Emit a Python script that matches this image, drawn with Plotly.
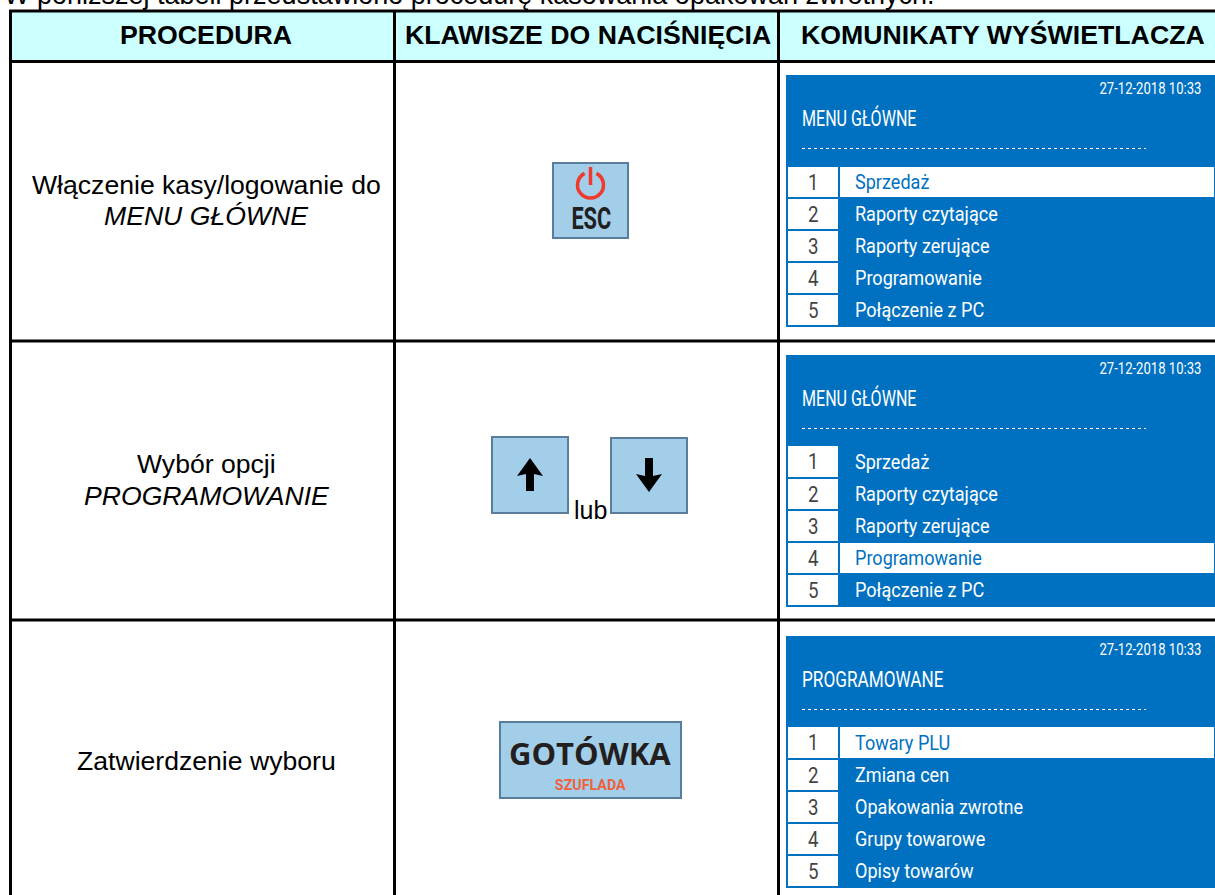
import math
import plotly.graph_objects as go

INTRO = "W poniższej tabeli przedstawiono procedurę kasowania opakowań zwrotnych."
HEADERS = ["PROCEDURA", "KLAWISZE DO NACIŚNIĘCIA", "KOMUNIKATY WYŚWIETLACZA"]
HEADER_X = [206, 587.5, 1003]
STEP_LINES = [["Włączenie kasy/logowanie do", "MENU GŁÓWNE"],
              ["Wybór opcji", "PROGRAMOWANIE"],
              ["Zatwierdzenie wyboru"]]
STEP_Y = [[184.5, 216], [464, 496], [761]]
PANEL_TITLES = ["MENU GŁÓWNE", "MENU GŁÓWNE", "PROGRAMOWANE"]
PANEL_TITLE_SQUEEZE = [0.73, 0.73, 0.78]
PANEL_DATE = "27-12-2018 10:33"
PANEL_TOPS = [75, 355, 636]
PANEL_ITEMS = [["Sprzedaż", "Raporty czytające", "Raporty zerujące", "Programowanie", "Połączenie z PC"],
               ["Sprzedaż", "Raporty czytające", "Raporty zerujące", "Programowanie", "Połączenie z PC"],
               ["Towary PLU", "Zmiana cen", "Opakowania zwrotne", "Grupy towarowe", "Opisy towarów"]]
PANEL_SELECTED = [0, 3, 0]
PANEL_FIRST_ROW = [92, 91, 91]
ROW_OFFSETS = [124, 156, 188, 220]

COLS = [10.5, 394.5, 778.5]
ROW_LINES = [11, 61.5, 341, 620, 895]
BLUE = "#0071C1"
KEY_FILL = "#A3CEE9"
KEY_LINE = "#5B7D9C"
HEAD = "#CCFFFF"
COND = "Roboto"
ARIAL = "Liberation Sans"

shapes, ann = [], []

def rect(x0, y0, x1, y1, fill, line=None, lw=0):
    shapes.append(dict(type="rect", xref="x", yref="y", x0=x0, y0=y0, x1=x1, y1=y1,
                       fillcolor=fill, line=dict(color=line or fill, width=lw)))

def seg(x0, y0, x1, y1, color="#000", lw=3, dash="solid"):
    shapes.append(dict(type="line", xref="x", yref="y", x0=x0, y0=y0, x1=x1, y1=y1,
                       line=dict(color=color, width=lw, dash=dash)))

def poly(path, fill, line=None, lw=0):
    shapes.append(dict(type="path", xref="x", yref="y", path=path, fillcolor=fill,
                       line=dict(color=line or fill, width=lw)))

def text(x, y, s, size, color="#000", family=ARIAL, xanchor="center", squeeze=1.0, yshift=0):
    ann.append(dict(x=x, y=y, xref="x", yref="y", text=s, showarrow=False, xanchor=xanchor,
                    yanchor="middle", font=dict(size=size, color=color, family=family),
                    borderpad=0, borderwidth=0, name=str(squeeze), yshift=yshift))

def arc_path(cx, cy, r, a0, a1, n=6):
    step = (a1 - a0) / n
    k = 4 / 3 * math.tan(math.radians(step) / 4)
    pt = lambda a: (cx + r * math.sin(math.radians(a)), cy - r * math.cos(math.radians(a)))
    p = "M %.2f %.2f" % pt(a0)
    for i in range(n):
        s, e = a0 + i * step, a0 + (i + 1) * step
        (x0, y0), (x1, y1) = pt(s), pt(e)
        c1 = (x0 + k * r * math.cos(math.radians(s)), y0 + k * r * math.sin(math.radians(s)))
        c2 = (x1 - k * r * math.cos(math.radians(e)), y1 - k * r * math.sin(math.radians(e)))
        p += " C %.2f %.2f %.2f %.2f %.2f %.2f" % (*c1, *c2, x1, y1)
    return p

# header band and grid
rect(COLS[0], ROW_LINES[0], 1215, ROW_LINES[1], HEAD)
for y in ROW_LINES[:4]:
    seg(COLS[0] - 1.5, y, 1215, y)
for x in COLS:
    seg(x, ROW_LINES[0], x, 895)

text(4, 0, INTRO, 27, "#000", ARIAL, "left", yshift=5)
for x, h in zip(HEADER_X, HEADERS):
    text(x, 35, "<b>%s</b>" % h, 26.7)

for lines, ys in zip(STEP_LINES, STEP_Y):
    text(206, ys[0], lines[0], 26.6)
    if len(lines) > 1:
        text(206, ys[1], "<i>%s</i>" % lines[1], 26.6)

# keys
rect(553, 163, 628, 238, KEY_FILL, KEY_LINE, 2)
poly(arc_path(590.5, 185, 13, 27, 333), "rgba(0,0,0,0)", "#EE3B2E", 3.5)
seg(590.5, 167, 590.5, 185, "#EE3B2E", 3.5)
text(591, 218, "<b>ESC</b>", 32, "#1E2022", COND, squeeze=0.68)

rect(492, 437, 568, 513, KEY_FILL, KEY_LINE, 2)
poly("M 530 458 L 543 476 L 534 474 L 534 491 L 526 491 L 526 474 L 517 476 Z", "#000")
rect(611, 438, 687, 513, KEY_FILL, KEY_LINE, 2)
poly("M 649 492 L 662 474 L 653 476 L 653 458 L 645 458 L 645 476 L 636 474 Z", "#000")
text(590, 510, "lub", 25)

rect(500, 722, 681, 798, KEY_FILL, KEY_LINE, 2)
text(590, 753, "<b>GOTÓWKA</b>", 31, "#231F20", "Open Sans")
text(590, 785, "<b>SZUFLADA</b>", 15, "#F0603A", COND, squeeze=0.95)

# display panels
for top, title, squeeze, items, sel, first in zip(PANEL_TOPS, PANEL_TITLES, PANEL_TITLE_SQUEEZE,
                                                  PANEL_ITEMS, PANEL_SELECTED, PANEL_FIRST_ROW):
    rect(786, top, 1215, top + 252, BLUE)
    text(1201, top + 13, PANEL_DATE, 17, "#FFFFFF", COND, "right", squeeze=0.77)
    text(802, top + 43, title, 22, "#FFFFFF", COND, "left", squeeze=squeeze)
    seg(802, top + 73.5, 1146, top + 73.5, "#FFFFFF", 1, "dot")
    for i, (dy, item) in enumerate(zip([first] + ROW_OFFSETS, items)):
        y0, y1 = top + dy, top + (dy + 30 if i else 122)
        rect(788, y0, 838, y1, "#FFFFFF")
        text(813, (y0 + y1) / 2, str(i + 1), 22, "#444444", COND, squeeze=0.85)
        if i == sel:
            rect(840, y0, 1214, y1, "#FFFFFF")
        text(855, (y0 + y1) / 2, item, 21, BLUE if i == sel else "#FFFFFF", COND, "left", squeeze=0.86)

POST = """
document.body.style.margin = '0';
var gd = document.getElementById('{plot_id}');
gd.querySelectorAll('.annotation').forEach(function (g) {
  var a = gd.layout.annotations[+g.getAttribute('data-index')];
  var f = parseFloat(a.name);
  if (!(f < 1)) return;
  var t = g.querySelector('.annotation-text');
  var w = t.getComputedTextLength(), n = w * f;
  t.setAttribute('textLength', n);
  t.setAttribute('lengthAdjust', 'spacingAndGlyphs');
  var dx = a.xanchor === 'left' ? -(w - n) / 2 : a.xanchor === 'right' ? (w - n) / 2 : 0;
  t.setAttribute('transform', 'translate(' + dx + ',0)');
});
"""

fig = go.Figure()
fig.update_layout(width=1215, height=895, margin=dict(l=0, r=0, t=0, b=0),
                  paper_bgcolor="#FFFFFF", plot_bgcolor="#FFFFFF", showlegend=False,
                  xaxis=dict(range=[0, 1215], visible=False, fixedrange=True),
                  yaxis=dict(range=[895, 0], visible=False, fixedrange=True),
                  shapes=shapes, annotations=ann)
fig.write_html("out.html", config=dict(displayModeBar=False), post_script=POST)
